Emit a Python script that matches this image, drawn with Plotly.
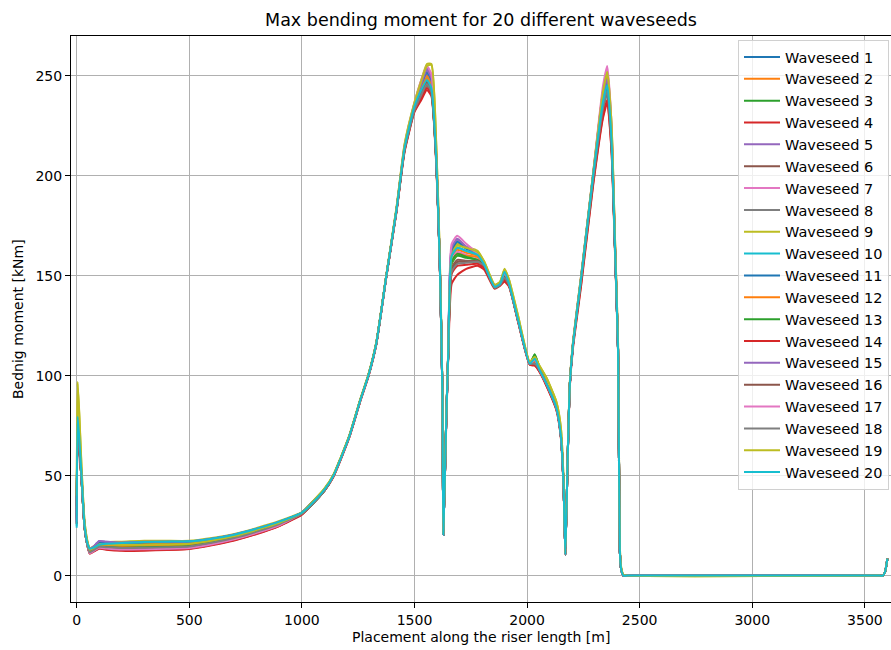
import plotly.graph_objects as go

# Positions along the riser (m) shared by every waveseed run
position_m = [
    0, 4, 12, 21, 35, 48, 58, 75, 100, 130, 200, 300, 400, 500, 600, 700, 800, 900,
    1000, 1035, 1100, 1140, 1210, 1260, 1295, 1330, 1375, 1420, 1456, 1500,
    1530, 1555, 1575, 1597, 1612, 1624, 1628, 1641, 1650, 1665,
    1690, 1730, 1780, 1810, 1856, 1880, 1900, 1920, 1960, 2012,
    2034, 2055, 2086, 2130, 2150, 2162, 2170, 2180, 2190, 2204, 2241,
    2293, 2337, 2356, 2375, 2390, 2404, 2412, 2418, 2428, 2445, 3565, 3580, 3590, 3600,
]

# Max bending moment (kNm) per waveseed
ws01 = [28, 78, 66, 50, 25, 16, 13, 14, 16.5, 16.5, 16.2, 16.5, 16.6, 16.8, 18.2, 20.3, 23.3, 26.8,
        31.5, 35.5, 43, 50, 69.5, 88, 100, 116, 150, 183, 214, 235,
        245, 251, 247, 208, 158, 92, 20.5, 78, 112, 162,
        166, 163.5, 161, 156, 144.5, 146, 151, 146, 128, 106,
        107, 103, 96, 84, 70, 45, 10.5, 58, 96, 116, 150,
        200, 239, 247, 220, 166, 113, 12, 3, 0, 0, 0, 0, 2, 8.5]
ws02 = [30, 77, 65, 50, 25, 16, 12.8, 13.8, 16, 15.8, 15.6, 15.8, 16, 16.3, 17.8, 20, 23, 26.5,
        31.3, 35, 43, 50, 69.5, 88, 100, 116, 150, 183, 214, 235,
        244, 250, 246, 208, 158, 92, 20.5, 78, 112, 159,
        163, 161.5, 160, 156, 144.5, 146, 151, 146, 128, 106,
        107.5, 103, 96, 84, 70, 45, 10.5, 58, 96, 116, 150,
        200, 242, 250, 222, 167, 113, 12, 3, 0, 0, 0, 0, 2, 8.5]
ws03 = [36, 76, 64, 49, 24, 15, 11.8, 12.8, 14.5, 14.2, 13.8, 14, 14.2, 14.6, 16.4, 18.8, 22, 25.8,
        31, 34.5, 42.5, 50, 69.5, 88, 100, 116, 150, 183, 214, 234,
        242, 247, 243, 207, 158, 92, 20.5, 78, 112, 156,
        160, 159, 158, 155, 144, 145.5, 150, 145.5, 128, 106,
        110.8, 104, 96, 84, 70, 45, 10.5, 58, 96, 116, 149,
        199, 236, 244, 218, 165, 113, 12, 3, 0, 0, 0, 0, 2, 8.5]
ws04 = [26, 75, 63, 49, 24, 15, 11, 12, 13.5, 13, 12.4, 12.5, 12.8, 13.3, 15.2, 17.6, 20.8, 24.8,
        30.5, 34.5, 42.5, 49.5, 69, 87.5, 99.5, 115.5, 149.5, 182, 212, 232,
        238, 243, 240, 205, 157, 91, 20.5, 76, 110, 146,
        150.5, 153.5, 155, 153, 143.5, 145, 147, 144.5, 127, 105.5,
        105, 102, 95, 83, 69, 44, 10.5, 57, 95, 114, 146,
        195, 229, 236.5, 212, 163, 112, 12, 3, 0, 0, 0, 0, 2, 8.5]
ws05 = [32, 79, 67, 51, 25, 16, 13.2, 14.5, 17.2, 16.9, 16.5, 16.8, 16.9, 17, 18.4, 20.5, 23.4, 27,
        31.6, 35.5, 43, 50, 69.5, 88, 100, 116, 150, 183, 214.5, 236,
        247, 254, 250, 209, 158, 92, 20.5, 78, 112, 164,
        168, 164.5, 161, 156, 144.5, 146, 151, 146, 128, 106,
        108, 103, 96, 84, 70, 45, 10.5, 58, 96, 116, 150,
        200, 241, 249, 221, 166, 113, 12, 3, 0, 0, 0, 0, 2, 8.5]
ws06 = [29, 74, 63, 49, 24, 15, 11.3, 12.3, 14, 13.6, 13, 13.2, 13.4, 13.8, 15.7, 18.1, 21.3, 25.2,
        31, 34.5, 42.5, 50, 69.5, 88, 100, 116, 150, 182.5, 213, 233.5,
        241, 246, 242, 207, 158, 92, 20.5, 78, 111, 154,
        158, 157.5, 157, 155, 144, 145.5, 149, 145.5, 127.5, 106,
        106, 103, 96, 84, 70, 45, 10.5, 58, 96, 116, 149,
        198, 234, 242, 216, 165, 113, 12, 3, 0, 0, 0, 0, 2, 8.5]
ws07 = [27, 76, 64, 50, 24, 15, 11.2, 12.2, 13.8, 13.5, 12.9, 13, 13.2, 13.6, 15.5, 18, 21.2, 25.1,
        31, 35, 43, 50, 69.5, 88, 100, 116, 150, 183, 214, 235,
        245, 252, 248, 208, 158, 92, 20.5, 78, 112, 158,
        162, 160.5, 159, 155.5, 144.5, 146, 150, 146, 128, 106,
        107, 103, 96, 84, 70, 45, 10.5, 58, 96, 116, 150,
        200, 240, 248, 220, 166, 113, 12, 3, 0, 0, 0, 0, 2, 8.5]
ws08 = [31, 75, 64, 49, 24, 15, 11.6, 12.6, 14.3, 14, 13.6, 13.8, 14, 14.4, 16.2, 18.6, 21.8, 25.6,
        31, 34.5, 42.5, 50, 69.5, 88, 100, 116, 150, 182.5, 213, 233,
        240, 245, 241, 207, 158, 92, 20.5, 78, 111, 153,
        157, 157, 157, 155, 144, 145.5, 149, 145.5, 127.5, 106,
        106.5, 103, 96, 84, 70, 45, 10.5, 58, 96, 116, 149,
        198, 233, 241, 215, 165, 113, 12, 3, 0, 0, 0, 0, 2, 8.5]
ws09 = [38, 97, 80, 56, 27, 17, 13.8, 14.6, 16.5, 16.8, 17, 17.5, 17.4, 17.4, 18.8, 20.8, 23.8, 27.3,
        31.8, 35.5, 43.5, 50.5, 70, 88.5, 100.5, 116.5, 150.5, 184, 216, 237,
        248, 256, 256, 215, 162, 95, 21, 79, 113, 161,
        166, 164.5, 162.5, 157, 145.5, 147, 153.5, 148, 130, 107,
        109, 105, 99, 87, 74, 48, 11, 59, 97, 117, 151,
        201, 243, 252.5, 226, 170, 116, 14, 4, 0.5, 0, 0, 0, 2, 8.5]
ws10 = [25, 80, 68, 51, 25, 16, 13.4, 14, 15.6, 16, 16.3, 16.8, 16.9, 17.1, 18.4, 20.4, 23.4, 26.9,
        31.5, 35, 43, 50, 69.5, 88, 100, 116, 150, 183, 214, 235,
        244, 249, 245, 208, 158, 92, 20.5, 78, 112, 160,
        164, 162.5, 160.5, 155.5, 144.5, 146, 151.5, 146, 128, 106,
        108, 103, 96, 84, 70, 45, 10.5, 58, 96, 116, 150,
        200, 238, 246, 219, 166, 113, 12, 3, 0, 0, 0, 0, 2, 8.5]
ws11 = [27, 78, 66, 50, 25, 16, 13.1, 14.2, 16.8, 16.6, 16.3, 16.6, 16.7, 16.9, 18.3, 20.4, 23.3, 26.8,
        31.5, 35.5, 43, 50, 69.5, 88, 100, 116, 150, 183, 214, 235.5,
        245.5, 252, 248, 208, 158, 92, 20.5, 78, 112, 163,
        167, 164, 161.5, 156, 144.5, 146, 151, 146, 128, 106,
        107.5, 103, 96, 84, 70, 45, 10.5, 58, 96, 116, 150,
        200, 239, 246.5, 220, 166, 113, 12, 3, 0, 0, 0, 0, 2, 8.5]
ws12 = [33, 77, 65, 50, 25, 16, 12.5, 13.5, 15.5, 15.2, 14.8, 15, 15.2, 15.6, 17.2, 19.5, 22.6, 26.2,
        31.2, 35, 43, 50, 69.5, 88, 100, 116, 150, 183, 214, 234.5,
        243.5, 249, 245, 208, 158, 92, 20.5, 78, 112, 157,
        161, 160, 159.5, 155.5, 144.5, 146, 150.5, 146, 128, 106,
        107, 103, 96, 84, 70, 45, 10.5, 58, 96, 116, 150,
        200, 242, 250.5, 223, 167, 113, 12, 3, 0, 0, 0, 0, 2, 8.5]
ws13 = [35, 76, 64, 49, 24, 15, 11.9, 12.9, 14.6, 14.4, 14, 14.2, 14.4, 14.8, 16.6, 19, 22.1, 25.9,
        31, 34.5, 42.5, 50, 69.5, 88, 100, 116, 150, 183, 213.5, 234,
        241, 246, 242, 207, 158, 92, 20.5, 78, 112, 157,
        161, 159.5, 158, 155, 144, 145.5, 150, 145.5, 128, 106,
        110.5, 104, 96, 84, 70, 45, 10.5, 58, 96, 116, 149,
        199, 235, 243, 217, 165, 113, 12, 3, 0, 0, 0, 0, 2, 8.5]
ws14 = [26, 74, 63, 49, 24, 15, 11.1, 12.1, 13.6, 13.3, 12.7, 12.8, 13, 13.5, 15.4, 17.8, 21, 24.9,
        30.7, 34.5, 42.5, 49.5, 69, 87.5, 99.5, 115.5, 149.5, 182, 212.5, 232.5,
        239, 244, 241, 206, 157, 91, 20.5, 77, 111, 151,
        155, 155.5, 156, 154, 144, 145.5, 148, 145, 127, 105.5,
        105.5, 102, 95, 83, 69, 44, 10.5, 57, 95, 115, 147,
        196, 230, 238, 213, 164, 112, 12, 3, 0, 0, 0, 0, 2, 8.5]
ws15 = [30, 79, 67, 51, 25, 16, 13.3, 14.6, 17.3, 17, 16.6, 16.9, 17, 17.1, 18.5, 20.6, 23.5, 27,
        31.6, 35.5, 43, 50, 69.5, 88, 100, 116, 150, 183, 214.5, 235.5,
        246, 253, 249, 209, 158, 92, 20.5, 78, 112, 164,
        168.5, 164.5, 161, 156, 144.5, 146, 151, 146, 128, 106,
        108, 103, 96, 84, 70, 45, 10.5, 58, 96, 116, 150,
        200, 240, 248.5, 221, 166, 113, 12, 3, 0, 0, 0, 0, 2, 8.5]
ws16 = [28, 75, 63, 49, 24, 15, 11.4, 12.4, 14.1, 13.8, 13.2, 13.4, 13.6, 14, 15.9, 18.3, 21.5, 25.3,
        31, 34.5, 42.5, 50, 69.5, 88, 100, 116, 150, 182.5, 213, 233.5,
        241.5, 247, 243, 207, 158, 92, 20.5, 78, 111, 153,
        157, 157, 157.5, 155, 144, 145.5, 149, 145.5, 127.5, 106,
        106, 103, 96, 84, 70, 45, 10.5, 58, 96, 116, 149,
        198, 235, 243, 217, 165, 113, 12, 3, 0, 0, 0, 0, 2, 8.5]
ws17 = [27, 78, 66, 50, 25, 15, 11.3, 12.3, 13.9, 13.6, 13.1, 13.2, 13.4, 13.8, 15.7, 18.2, 21.4, 25.2,
        31.2, 35, 43, 50, 69.5, 88, 100, 116, 150, 183, 215, 236.5,
        248, 255, 251, 210, 159, 92, 20.5, 78, 113, 166,
        170, 166, 161, 156, 144.5, 146, 151.5, 146, 128, 106,
        108, 103, 96, 84, 70, 45, 10.5, 58, 96, 117, 151,
        201, 245, 255, 226, 168, 114, 13, 3, 0, 0, 0, 0, 2, 8.5]
ws18 = [30, 76, 64, 49, 24, 15, 11.7, 12.7, 14.4, 14.2, 13.8, 14, 14.2, 14.6, 16.4, 18.8, 22, 25.8,
        31, 34.5, 42.5, 50, 69.5, 88, 100, 116, 150, 182.5, 213, 233,
        240.5, 246, 242, 207, 158, 92, 20.5, 78, 111, 152,
        156, 156.5, 157, 155, 144, 145.5, 149, 145.5, 127.5, 106,
        106, 103, 96, 84, 70, 45, 10.5, 58, 96, 116, 149,
        198, 234, 242.5, 216, 165, 113, 12, 3, 0, 0, 0, 0, 2, 8.5]
ws19 = [40, 96, 79, 55, 27, 17, 13, 13.8, 15.6, 15.6, 15.4, 15.5, 15.6, 16, 17.6, 19.8, 22.9, 26.4,
        31.5, 35.5, 43.5, 50.5, 70, 88.5, 100.5, 116.5, 150.5, 184, 215.5, 236.5,
        247.5, 255, 255.5, 214, 161, 94, 21, 79, 113, 160,
        165, 164, 162, 157, 145.5, 147, 153, 148, 130, 107,
        109.5, 105, 99, 87, 74, 48, 11, 59, 97, 117, 151,
        201, 242, 252, 226, 170, 116, 14, 4, 0.5, 0, 0, 0, 2, 8.5]
ws20 = [24, 79.5, 68, 51, 25, 16, 13.5, 14, 15.5, 16, 16.3, 16.8, 17, 17.2, 18.5, 20.5, 23.5, 27,
        31.5, 35, 43, 50, 69.5, 88, 100, 116, 150, 183, 214, 235,
        243, 248, 244, 208, 158, 92, 20.5, 78, 112, 160,
        164, 162.5, 160.5, 155.5, 144.5, 146, 152, 146, 128, 106,
        108.5, 103, 96, 84, 70, 45, 10.5, 58, 96, 116, 150,
        200, 237, 245.5, 218, 166, 113, 12, 3, 0, 0, 0, 0, 2, 8.5]

seed_names = [f"Waveseed {i}" for i in range(1, 21)]
seed_values = [ws01, ws02, ws03, ws04, ws05, ws06, ws07, ws08, ws09, ws10,
               ws11, ws12, ws13, ws14, ws15, ws16, ws17, ws18, ws19, ws20]

tab10 = ["#1f77b4", "#ff7f0e", "#2ca02c", "#d62728", "#9467bd",
         "#8c564b", "#e377c2", "#7f7f7f", "#bcbd22", "#17becf"]

FONT = "DejaVu Sans"

fig = go.Figure()
for i, (name, vals) in enumerate(zip(seed_names, seed_values)):
    fig.add_trace(go.Scatter(
        x=position_m, y=vals, mode="lines", name=name,
        line=dict(color=tab10[i % 10], width=2, shape="spline", smoothing=0.5),
    ))

W, H = 891, 650
ml, mr, mt, mb = 71, 0, 36, 48
pw, ph = W - ml - mr, H - mt - mb

fig.update_layout(
    width=W, height=H,
    margin=dict(l=ml, r=mr, t=mt, b=mb, autoexpand=False),
    paper_bgcolor="white", plot_bgcolor="white",
    font=dict(family=FONT, size=14, color="black"),
    title=dict(text="Max bending moment for 20 different waveseeds",
               x=0.5, xref="paper", xanchor="center",
               y=1 - 20 / H, yref="container", yanchor="middle",
               font=dict(family=FONT, size=17.5, color="black")),
    showlegend=True,
    legend=dict(x=(738 - ml) / pw, xanchor="left", y=(H - mb - 40) / ph, yanchor="top",
                bgcolor="rgba(255,255,255,0.8)", bordercolor="#d0d0d0", borderwidth=1,
                font=dict(family=FONT, size=14.5, color="black"),
                traceorder="normal", itemwidth=36,
                entrywidth=150, entrywidthmode="pixels"),
    xaxis=dict(range=[-25.3, 3616], tickvals=[0, 500, 1000, 1500, 2000, 2500, 3000, 3500],
               showgrid=True, gridcolor="#b0b0b0", gridwidth=1, zeroline=False,
               showline=True, linecolor="black", linewidth=1, mirror=True,
               ticks="outside", ticklen=5, tickcolor="black", tickwidth=1,
               tickfont=dict(family=FONT, size=14, color="black")),
    yaxis=dict(range=[-13.2, 270], tickvals=[0, 50, 100, 150, 200, 250],
               showgrid=True, gridcolor="#b0b0b0", gridwidth=1, zeroline=False,
               showline=True, linecolor="black", linewidth=1, mirror=False,
               ticks="outside", ticklen=5, tickcolor="black", tickwidth=1,
               tickfont=dict(family=FONT, size=14, color="black")),
    annotations=[
        dict(text="Placement along the riser length [m]", xref="paper", yref="paper",
             x=0.5, y=-(637 - (H - mb)) / ph, xanchor="center", yanchor="middle",
             showarrow=False, font=dict(family=FONT, size=14, color="black")),
        dict(text="Bednig moment [kNm]", xref="paper", yref="paper",
             x=-(ml - 18) / pw, y=0.5, xanchor="center", yanchor="middle",
             textangle=-90, showarrow=False, font=dict(family=FONT, size=14, color="black")),
    ],
)

fig.write_html("out.html")
